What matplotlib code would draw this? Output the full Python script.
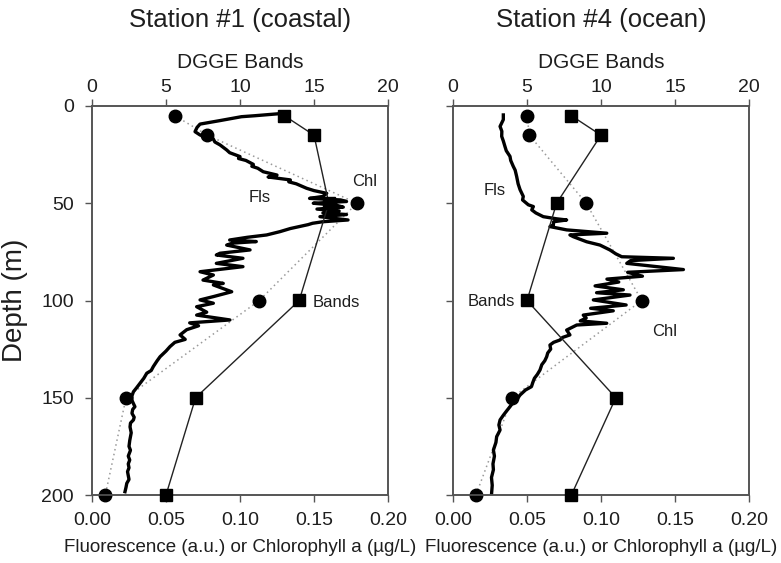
import matplotlib
matplotlib.use("Agg")
import matplotlib.pyplot as plt

plt.rcParams['font.family'] = ['Liberation Sans', 'DejaVu Sans']

# ---------------- Data ----------------
sample_depth = [5, 15, 50, 100, 150, 200]

# Station #1 (coastal)
bands1 = [13, 15, 16, 14, 7, 5]
chl1 = [0.056, 0.078, 0.179, 0.113, 0.023, 0.009]
fls1_depth = [3.8, 5.0, 5.5, 7.5, 9.3, 11, 13.2, 14.9, 17, 18.5, 20, 22.6, 24, 26, 27, 28, 30, 31,
              32, 33.8, 35.5, 36.5, 38, 39, 40, 42.3, 43.5, 44.9, 46.5, 47.5, 48.3, 49.1, 50, 51,
              52, 53, 54, 55, 55.8, 56.9, 58.6, 59.5, 60.3, 61, 62, 63, 64.6, 66.3, 67.5, 68.9,
              69.7, 70.5, 71.5, 74, 75.7, 76.6, 78.3, 80.9, 82.6, 85.2, 86.9, 89.5, 91.2, 92,
              95.5, 98, 99.7, 101.4, 103.2, 106, 107.5, 110, 111.5, 113, 115, 117.7, 120, 121.5,
              123.7, 126, 128.9, 131, 134, 136, 137.4, 140, 142.6, 145, 146.9, 149, 151, 153,
              154.6, 156, 158, 160, 161.4, 163, 165, 168, 170, 172, 175, 177, 180, 182, 184, 186,
              188, 190, 192, 194, 196, 198.3]
fls1_val = [0.129, 0.110, 0.101, 0.0865, 0.073, 0.071, 0.0696, 0.073, 0.082, 0.083, 0.0865, 0.091,
            0.093, 0.100, 0.099, 0.104, 0.109, 0.108, 0.112, 0.1157, 0.125, 0.119, 0.134, 0.133,
            0.138, 0.145, 0.150, 0.1586, 0.156, 0.147, 0.168, 0.172, 0.1495, 0.165, 0.1698, 0.152,
            0.167, 0.156, 0.172, 0.154, 0.173, 0.156, 0.149, 0.146, 0.140, 0.134, 0.127, 0.118,
            0.105, 0.093, 0.111, 0.095, 0.091, 0.1068, 0.0865, 0.084, 0.102, 0.084, 0.102, 0.073,
            0.082, 0.075, 0.0887, 0.082, 0.0944, 0.082, 0.073, 0.082, 0.0707, 0.0775, 0.0707,
            0.0932, 0.066, 0.072, 0.064, 0.0595, 0.063, 0.056, 0.0527, 0.050, 0.046, 0.044,
            0.0414, 0.040, 0.037, 0.035, 0.0324, 0.030, 0.028, 0.027, 0.0268, 0.028, 0.029,
            0.0275, 0.027, 0.0285, 0.028, 0.026, 0.0257, 0.0265, 0.026, 0.0255, 0.025, 0.026,
            0.0245, 0.0255, 0.0245, 0.025, 0.024, 0.0245, 0.025, 0.0235, 0.023, 0.0223]

# Station #4 (ocean)
bands4 = [8, 10, 7, 5, 11, 8]
chl4 = [0.050, 0.0516, 0.090, 0.1275, 0.040, 0.0155]
fls4_depth = [4.6, 7, 10.5, 13, 15.6, 18, 20.8, 23, 25.9, 28, 31, 33, 36.2, 40, 43, 46.5, 48.3,
              50.8, 51.7, 53.4, 55, 56.9, 58, 58.6, 59.5, 61.1, 62, 63.7, 65.4, 66.3, 67.2, 69.8,
              71.5, 74, 76, 77.5, 78.3, 79.5, 80.9, 84.1, 85.5, 87.5, 89, 90.5, 92.5, 94.5, 96,
              97.2, 99.7, 102.3, 104, 105.3, 107.5, 109, 110.5, 111.7, 112.6, 115.2, 117.7, 119,
              120.3, 121.5, 122.9, 125, 127, 128.9, 131, 133, 135.7, 138, 140, 142, 144.3, 146,
              148.6, 150, 152, 154.6, 157, 159, 161.4, 164, 166.6, 170, 173, 176.9, 180, 184, 187,
              191, 195, 199]
fls4_val = [0.034, 0.034, 0.0318, 0.033, 0.0329, 0.034, 0.0351, 0.036, 0.0385, 0.039, 0.0407,
            0.042, 0.043, 0.044, 0.0453, 0.0475, 0.047, 0.0509, 0.0543, 0.0532, 0.056, 0.061,
            0.070, 0.0768, 0.068, 0.0678, 0.0655, 0.0768, 0.1039, 0.079, 0.0813, 0.0903, 0.0993,
            0.106, 0.110, 0.114, 0.1489, 0.120, 0.1174, 0.1557, 0.118, 0.128, 0.104, 0.112, 0.096,
            0.1151, 0.097, 0.1196, 0.0948, 0.117, 0.093, 0.1083, 0.088, 0.090, 0.086, 0.1039,
            0.0836, 0.0768, 0.079, 0.074, 0.0723, 0.068, 0.0655, 0.066, 0.064, 0.0633, 0.062,
            0.060, 0.0588, 0.057, 0.055, 0.054, 0.053, 0.049, 0.0453, 0.044, 0.041, 0.0385,
            0.036, 0.034, 0.0318, 0.031, 0.0318, 0.0295, 0.029, 0.0273, 0.028, 0.027, 0.0273,
            0.026, 0.0265, 0.0261]

titles = ["Station #1 (coastal)", "Station #4 (ocean)"]
xlabel = "Fluorescence (a.u.) or Chlorophyll a (\u00b5g/L)"
toplabel = "DGGE Bands"
ylabel = "Depth (m)"

# ---------------- Figure ----------------
fig = plt.figure(figsize=(7.81, 5.63), dpi=100)
W, H = 781, 563
def rect(x0, x1, y0, y1):
    return [x0 / W, 1 - y1 / H, (x1 - x0) / W, (y1 - y0) / H]

axs = [fig.add_axes(rect(92, 388, 106, 495)), fig.add_axes(rect(453, 749, 106, 495))]
centers = [240, 601]

panels = [
    (fls1_depth, fls1_val, chl1, bands1),
    (fls4_depth, fls4_val, chl4, bands4),
]
annots = [
    [("Fls", 0.1135, 47.3), ("Chl", 0.1845, 39), ("Bands", 0.165, 101)],
    [("Fls", 0.0284, 43.2), ("Bands", 0.0261, 100.6), ("Chl", 0.1432, 116)],
]
spine_col = "#555555"
txt_col = "#1e1e1e"

for i, ax in enumerate(axs):
    fd, fv, chl, bands = panels[i]
    ax.plot(chl, sample_depth, linestyle=(0, (1, 2.2)), color="#9a9a9a", lw=1.1,
            marker="o", ms=9, mfc="black", mec="black", zorder=3)
    ax.plot(fv, fd, color="black", lw=2.4, zorder=4, solid_joinstyle="round")
    ax.set_xlim(0, 0.20)
    ax.set_ylim(200, 0)
    ax.set_xticks([0, 0.05, 0.10, 0.15, 0.20])
    ax.set_xticklabels(["0.00", "0.05", "0.10", "0.15", "0.20"])
    ax.set_yticks([0, 50, 100, 150, 200])
    ax.tick_params(axis="x", direction="out", length=5, width=1, colors=spine_col,
                   labelcolor=txt_col, labelsize=14, pad=7)
    ax.tick_params(axis="y", direction="out", length=5, width=1, colors=spine_col,
                   labelcolor=txt_col, labelsize=14, pad=8)
    for sp in ax.spines.values():
        sp.set_color(spine_col)
        sp.set_linewidth(1.2)

    top = ax.twiny()
    top.plot(bands, sample_depth, color="#222222", lw=1.0, marker="s", ms=8,
             mfc="black", mec="black", zorder=5)
    top.set_xlim(0, 20)
    top.set_ylim(200, 0)
    top.set_xticks([0, 5, 10, 15, 20])
    top.tick_params(direction="out", length=5, width=1, colors=spine_col, labelcolor=txt_col,
                    labelsize=14, pad=2.5)
    for sp in top.spines.values():
        sp.set_color(spine_col)
        sp.set_linewidth(1.2)

    fig.text(centers[i] / W, 1 - 20 / H, titles[i], fontsize=18.5, ha="center", va="center",
             color=txt_col)
    fig.text(centers[i] / W, 1 - 63 / H, toplabel, fontsize=15, ha="center", va="center",
             color=txt_col)
    fig.text(centers[i] / W, 1 - 548 / H, xlabel, fontsize=13.5, ha="center", va="center",
             color=txt_col)

    for txt, x, y in annots[i]:
        ax.text(x, y, txt, fontsize=12, ha="center", va="center", color=txt_col, zorder=6)

    for line in ax.lines + top.lines:
        line.set_clip_on(False)

fig.text(15 / W, 1 - 300 / H, ylabel, fontsize=20, rotation=90, ha="center", va="center",
         color=txt_col)
axs[1].set_yticklabels([])

fig.savefig("out.png", dpi=100)
